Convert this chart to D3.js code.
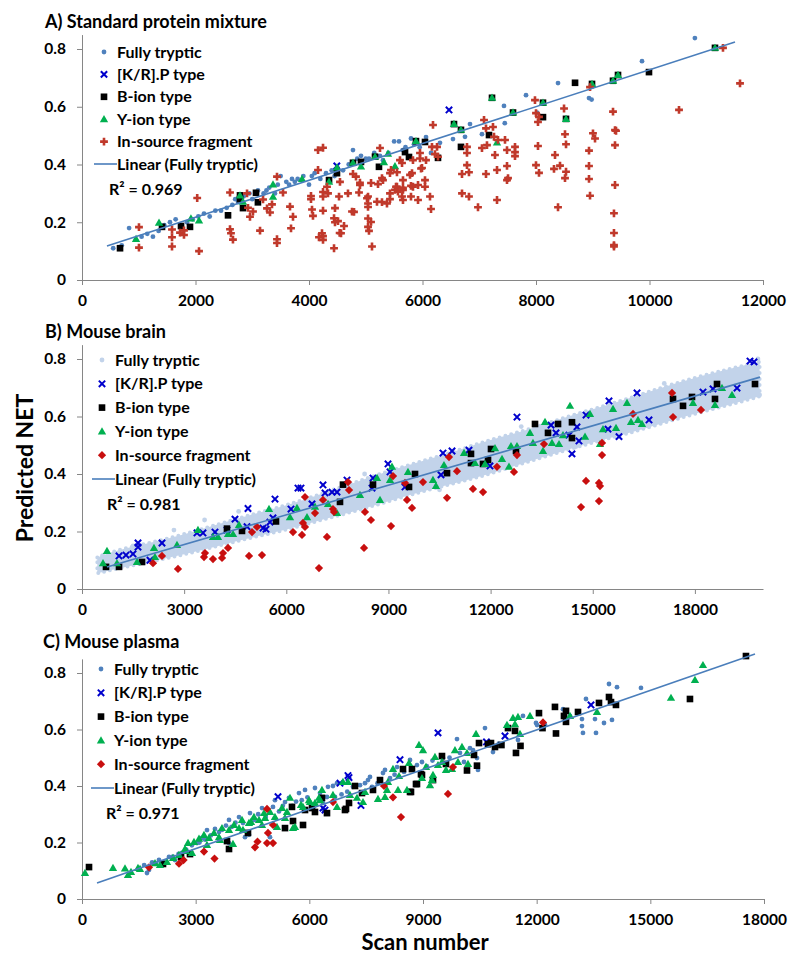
<!DOCTYPE html>
<html>
<head>
<meta charset="utf-8">
<script src="https://cdn.jsdelivr.net/npm/d3@7"></script>
<style>
  body { margin: 0; background: #fff; }
  text { font-family: Lato, "Open Sans", sans-serif; font-weight: bold; fill: #000; }
</style>
</head>
<body>
<script>
// ---- tick values ----
const xTicksA = [0, 2000, 4000, 6000, 8000, 10000, 12000];
const xTicksB = [0, 3000, 6000, 9000, 12000, 15000, 18000];
const xTicksC = [0, 3000, 6000, 9000, 12000, 15000, 18000];
const yTicks = [0, 0.2, 0.4, 0.6, 0.8];

const seriesNames = ['Fully tryptic', '[K/R].P type', 'B-ion type', 'Y-ion type', 'In-source fragment', 'Linear (Fully tryptic)'];

// ---- A) Standard protein mixture: [scan, NET] ----
const aFully = [[550,0.11],[700,0.12],[830,0.18],[950,0.14],[1050,0.15],[1150,0.16],[1250,0.15],[1350,0.17],[1450,0.19],[1550,0.2],
  [1650,0.21],[1750,0.19],[1850,0.2],[1950,0.21],[2050,0.22],[2150,0.23],[2250,0.22],[2350,0.24],[2450,0.24],[2550,0.25],
  [2650,0.26],[2700,0.28],[2750,0.27],[2850,0.29],[2950,0.3],[3000,0.28],[3100,0.31],[3200,0.3],[3250,0.31],[3300,0.32],
  [3400,0.3],[3450,0.33],[3500,0.36],[3600,0.34],[3650,0.33],[3700,0.35],[3750,0.34],[3800,0.35],[3900,0.36],[4000,0.33],
  [4050,0.36],[4100,0.37],[4200,0.35],[4300,0.37],[4400,0.38],[4450,0.36],[4500,0.39],[4600,0.38],[4700,0.4],[4775,0.45],
  [4850,0.42],[4916,0.43],[5000,0.42],[5057,0.42],[5150,0.44],[5250,0.43],[5304,0.415],[5400,0.44],[5500,0.48],[5586,0.48],
  [5650,0.45],[5700,0.46],[5797,0.49],[5850,0.47],[5950,0.46],[6062,0.495],[6150,0.44],[6308,0.475],[6537,0.488],[6749,0.496],
  [6837,0.54],[7048,0.505],[7436,0.603],[7450,0.543],[7824,0.64],[8018,0.58],[8388,0.682],[8934,0.63],[8980,0.625],[9868,0.758],
  [10800,0.838]];
const aKRP = [[4490,0.395],[6467,0.589]];
const aBion = [[670,0.11],[1410,0.184],[1745,0.187],[1903,0.184],[2573,0.224],[2784,0.28],[2837,0.249],[3066,0.302],[3100,0.269],
  [4353,0.346],[4493,0.37],[4916,0.409],[5233,0.392],[5692,0.443],[5762,0.426],[6044,0.478],[6273,0.423],[6678,0.461],[7172,0.502],
  [8123,0.564],[8688,0.683],[9991,0.72],[2784,0.293],[4775,0.406],[5163,0.427],[5885,0.481],[6555,0.54],[6678,0.52],[7225,0.631],
  [7595,0.58],[8123,0.614],[8529,0.558],[8987,0.679],[9357,0.69],[9445,0.71],[11154,0.804]];
const aYion = [[952,0.142],[1357,0.198],[1920,0.213],[2062,0.206],[2784,0.293],[2837,0.271],[3366,0.331],[3366,0.288],[3877,0.35],
  [4353,0.34],[4493,0.39],[4775,0.406],[4916,0.393],[5163,0.427],[5321,0.408],[5515,0.394],[5392,0.437],[5885,0.481],[6555,0.54],
  [6678,0.52],[7225,0.631],[7313,0.476],[7595,0.58],[8123,0.614],[8529,0.558],[8987,0.679],[9357,0.69],[9445,0.71],[11154,0.804]];
const aInSource = [[1004,0.183],[1004,0.112],[1586,0.175],[1586,0.148],[1586,0.116],[1727,0.164],[1797,0.156],[1797,0.172],[2030,0.284],
  [2062,0.1],[2608,0.303],[2608,0.176],[2625,0.162],[2660,0.14],[2908,0.3],[2925,0.25],[2960,0.219],[3013,0.237],[3137,0.171],
  [3190,0.279],[3260,0.248],[3313,0.234],[3348,0.262],[3436,0.358],[3436,0.141],[3436,0.128],[3542,0.303],[3665,0.254],[3718,0.219],
  [3683,0.179],[4035,0.291],[4035,0.28],[4053,0.244],[4070,0.222],[4159,0.45],[4247,0.458],[4159,0.381],[4176,0.148],[4229,0.162],
  [4247,0.24],[4317,0.323],[4335,0.3],[4441,0.11],[4441,0.214],[4511,0.204],[4564,0.162],[4546,0.34],[4687,0.3],[4758,0.237],
  [4775,0.367],[4828,0.358],[4881,0.303],[4898,0.337],[5022,0.283],[5040,0.265],[5040,0.213],[5040,0.184],[5057,0.17],[5093,0.201],
  [5110,0.116],[5093,0.336],[5198,0.271],[5216,0.332],[5286,0.353],[5251,0.457],[5374,0.265],[5427,0.37],[5427,0.28],[5515,0.312],
  [5550,0.323],[5568,0.306],[5550,0.373],[4247,0.305],[4247,0.289],[4247,0.152],[4247,0.139],[4458,0.249],[4458,0.2],[4529,0.289],
  [4540,0.163],[4617,0.187],[4793,0.236],[4898,0.329],[5040,0.289],[5040,0.253],[5286,0.27],[5304,0.346],[5427,0.3],[5445,0.381],
  [5533,0.323],[5603,0.415],[5639,0.289],[5656,0.277],[5656,0.319],[5780,0.364],[5797,0.326],[5797,0.289],[5832,0.415],[5921,0.329],
  [5921,0.277],[5956,0.44],[5991,0.388],[6044,0.323],[6062,0.415],[6132,0.289],[6150,0.246],[6185,0.537],[6256,0.461],[6273,0.427],
  [5639,0.405],[5656,0.346],[5656,0.312],[5815,0.37],[5832,0.323],[5956,0.421],[5974,0.386],[6044,0.346],[6167,0.461],[6220,0.436],
  [6696,0.367],[6696,0.3],[6784,0.461],[6784,0.44],[6784,0.398],[6819,0.373],[6819,0.289],[6978,0.252],[7048,0.457],[7084,0.554],
  [7119,0.525],[7119,0.367],[7136,0.467],[7242,0.53],[7260,0.496],[7277,0.433],[7313,0.381],[7313,0.277],[7330,0.485],[7454,0.485],
  [7489,0.45],[7489,0.395],[7489,0.346],[7507,0.353],[7630,0.461],[7630,0.443],[7630,0.429],[7982,0.623],[8000,0.578],[8035,0.547],
  [8035,0.464],[8000,0.398],[8053,0.371],[8053,0.565],[8335,0.433],[8317,0.385],[8388,0.252],[8423,0.396],[8494,0.594],[8511,0.505],
  [8529,0.47],[8529,0.375],[8511,0.353],[8934,0.448],[8934,0.395],[8934,0.35],[8952,0.292],[8952,0.668],[9004,0.508],[9040,0.49],
  [9357,0.583],[9392,0.519],[9410,0.517],[9392,0.467],[9392,0.329],[9374,0.231],[9374,0.163],[9374,0.121],[9374,0.116],[10520,0.589],
  [11295,0.804],[11595,0.681]];
const aTrend = [[440,0.118],[11507,0.824]];

// ---- B) Mouse brain ----
// envelope of the dense fully tryptic cloud: [scan, low, high]
const bBand = [[450,0.055,0.11],[1000,0.07,0.135],[2000,0.095,0.16],[3000,0.12,0.19],[4000,0.15,0.225],[5000,0.18,0.26],
  [6000,0.205,0.29],[7000,0.24,0.33],[8000,0.27,0.37],[9000,0.305,0.41],[10000,0.34,0.445],[11000,0.37,0.48],[12000,0.4,0.52],
  [13000,0.44,0.55],[14000,0.475,0.59],[15000,0.51,0.625],[16000,0.54,0.66],[17000,0.575,0.7],[18000,0.61,0.735],[19000,0.64,0.765],
  [19900,0.67,0.79]];
const bFully = [[600,0.115],[1500,0.15],[2700,0.205],[3600,0.24],[4600,0.27],[8300,0.4],[10500,0.345],[12900,0.565],[14500,0.495],
  [17100,0.715],[19850,0.8],[19900,0.675]];
const bKRP = [[1087,0.115],[1292,0.118],[1498,0.122],[1645,0.146],[1645,0.16],[2349,0.16],[1997,0.1],[3377,0.195],[3553,0.195],
  [3906,0.198],[4258,0.205],[4493,0.243],[4875,0.28],[4846,0.217],[5316,0.212],[5404,0.208],[5521,0.233],[5609,0.247],[5668,0.313],
  [6138,0.278],[6343,0.351],[6431,0.351],[6755,0.296],[7078,0.362],[7137,0.334],[7342,0.337],[7489,0.337],[7783,0.379],[8546,0.386],
  [8517,0.351],[8987,0.435],[9046,0.407],[9486,0.355],[10602,0.473],[10867,0.48],[10543,0.397],[11366,0.483],[11982,0.428],
  [12775,0.598],[13774,0.57],[13921,0.543],[14302,0.535],[14390,0.47],[14537,0.564],[14596,0.515],[14802,0.605],[15448,0.556],
  [15477,0.654],[15771,0.53],[16300,0.682],[16652,0.588],[18238,0.685],[18532,0.696],[19237,0.699],[19618,0.793],[19736,0.79]];
const bBion = [[705,0.077],[1087,0.077],[1762,0.094],[4258,0.21],[4699,0.202],[5697,0.235],[7577,0.303],[7665,0.363],[8546,0.363],
  [9604,0.355],[9780,0.4],[10720,0.403],[11424,0.47],[11424,0.438],[11777,0.435],[11924,0.449],[12012,0.487],[12746,0.48],
  [13304,0.574],[13686,0.543],[13980,0.574],[14390,0.58],[14390,0.525],[17357,0.661],[17651,0.637],[17915,0.668],[18590,0.661],
  [18649,0.713],[19765,0.713]];
const bYion = [[617,0.09],[734,0.132],[1028,0.09],[1615,0.094],[2114,0.143],[2143,0.111],[2790,0.153],[3406,0.205],[3847,0.181],
  [3994,0.181],[4288,0.191],[4435,0.191],[4611,0.223],[5492,0.278],[6108,0.25],[6314,0.282],[6608,0.25],[6843,0.286],[7225,0.296],
  [7489,0.264],[8164,0.327],[8752,0.31],[8664,0.386],[9104,0.425],[9046,0.379],[9574,0.407],[10308,0.379],[10396,0.358],[10631,0.431],
  [11219,0.473],[11542,0.438],[11836,0.435],[12129,0.49],[12335,0.452],[12540,0.425],[12599,0.497],[12775,0.497],[13157,0.543],
  [13245,0.508],[13539,0.48],[13598,0.581],[13803,0.508],[14009,0.504],[14126,0.535],[14332,0.637],[14773,0.53],[14919,0.609],
  [15213,0.504],[15301,0.556],[15595,0.626],[15683,0.56],[16006,0.647],[16124,0.581],[16329,0.588],[16446,0.574],[17944,0.647],
  [18590,0.64],[18796,0.699],[19090,0.675]];
const bInSource = [[2085,0.09],[2349,0.115],[2819,0.07],[3583,0.111],[3612,0.125],[3847,0.104],[4112,0.108],[4141,0.125],[4288,0.143],
  [4905,0.115],[4993,0.198],[5139,0.216],[5286,0.118],[6197,0.198],[6461,0.188],[6490,0.23],[6549,0.216],[6549,0.32],[6843,0.264],
  [6960,0.073],[7078,0.31],[7195,0.181],[7371,0.278],[7401,0.268],[7812,0.372],[7842,0.344],[8311,0.268],[8487,0.24],[8282,0.143],
  [9075,0.219],[9134,0.393],[9486,0.369],[9545,0.31],[9692,0.282],[10014,0.372],[10720,0.317],[10778,0.459],[11013,0.41],
  [11483,0.348],[11777,0.337],[12188,0.425],[12687,0.407],[12775,0.466],[13568,0.504],[14655,0.285],[14802,0.376],[15183,0.306],
  [15183,0.369],[15213,0.358],[15272,0.508],[15272,0.466],[16183,0.609],[17328,0.682],[17357,0.598],[18179,0.623]];
const bTrend = [[734,0.0765],[19912,0.737]];

// ---- C) Mouse plasma ----
const cFully = [[1640,0.12],[1715,0.092],[1768,0.103],[1850,0.13],[1950,0.125],[2032,0.138],[2150,0.13],[2296,0.149],[2400,0.15],
  [2454,0.138],[2550,0.16],[2639,0.163],[2750,0.175],[2824,0.166],[2900,0.19],[3035,0.198],[3100,0.2],[3167,0.216],[3250,0.21],
  [3299,0.244],[3400,0.225],[3510,0.248],[3616,0.237],[3700,0.245],[3800,0.26],[3880,0.28],[3880,0.198],[3950,0.255],[4050,0.27],
  [4144,0.29],[4249,0.269],[4302,0.219],[4407,0.227],[4434,0.304],[4550,0.28],[4650,0.3],[4751,0.322],[4850,0.29],[4962,0.219],
  [5041,0.326],[5093,0.35],[5200,0.31],[5300,0.33],[5358,0.343],[5463,0.358],[5550,0.33],[5650,0.345],[5727,0.375],[5800,0.35],
  [5886,0.386],[5950,0.36],[6149,0.393],[6281,0.375],[6360,0.34],[6387,0.315],[6466,0.361],[6492,0.397],[6624,0.4],[6677,0.361],
  [6730,0.41],[6850,0.37],[7000,0.38],[7152,0.397],[7337,0.403],[7469,0.41],[7548,0.421],[7601,0.432],[7654,0.397],[7800,0.41],
  [7944,0.446],[7997,0.457],[8129,0.428],[8250,0.44],[8314,0.467],[8500,0.45],[8657,0.492],[8841,0.474],[8973,0.485],[9100,0.47],
  [9250,0.49],[9528,0.499],[9700,0.5],[9897,0.566],[9976,0.517],[10082,0.485],[10240,0.534],[10320,0.527],[10425,0.499],
  [10451,0.457],[10636,0.605],[10847,0.52],[11000,0.55],[11507,0.563],[11639,0.648],[11982,0.623],[12009,0.616],[12220,0.616],
  [12695,0.672],[12879,0.648],[13196,0.612],[13222,0.588],[13196,0.637],[13302,0.708],[13539,0.637],[13566,0.588],[13777,0.623],
  [13909,0.761],[13988,0.634],[14120,0.75],[14753,0.747]];
const cKRP = [[5173,0.362],[6360,0.322],[6413,0.315],[6809,0.41],[7020,0.437],[7047,0.43],[7363,0.331],[8393,0.493],[9396,0.588],
  [10675,0.556],[11164,0.577],[13434,0.687]];
const cBion = [[185,0.113],[2138,0.124],[2613,0.149],[2850,0.159],[3827,0.205],[3880,0.177],[4381,0.234],[5358,0.251],[5542,0.326],
  [5569,0.276],[5833,0.262],[5886,0.315],[6070,0.322],[6149,0.308],[6334,0.358],[6466,0.304],[6941,0.315],[6968,0.319],[7047,0.34],
  [7205,0.4],[7390,0.375],[7680,0.386],[7865,0.421],[8472,0.46],[8657,0.379],[8683,0.379],[8709,0.46],[8815,0.407],[8841,0.407],
  [8947,0.442],[8973,0.439],[9264,0.421],[9501,0.506],[9607,0.478],[10161,0.455],[10346,0.51],[10425,0.472],[10478,0.552],
  [10715,0.548],[10794,0.552],[10900,0.538],[11070,0.545],[11243,0.605],[11428,0.595],[11454,0.517],[11573,0.542],[12061,0.658],
  [12154,0.605],[12483,0.68],[12510,0.586],[12721,0.648],[12774,0.666],[12774,0.627],[13091,0.662],[13645,0.694],[13909,0.715],
  [13962,0.697],[14093,0.687],[16046,0.708],[17524,0.86]];
const cYion = [[79,0.092],[818,0.11],[1135,0.108],[1214,0.085],[1293,0.096],[1478,0.11],[1531,0.106],[1927,0.127],[2059,0.12],
  [2243,0.131],[2402,0.145],[2560,0.156],[2718,0.177],[2745,0.17],[2798,0.198],[2903,0.163],[2956,0.202],[3088,0.213],[3220,0.227],
  [3299,0.191],[3352,0.216],[3484,0.234],[3616,0.219],[3642,0.209],[3695,0.251],[3880,0.244],[3985,0.195],[4012,0.262],[4144,0.251],
  [4223,0.28],[4249,0.244],[4407,0.269],[4460,0.273],[4539,0.29],[4672,0.28],[4751,0.262],[4804,0.304],[4830,0.287],[4962,0.308],
  [5093,0.29],[5146,0.255],[5278,0.322],[5358,0.287],[5410,0.308],[5490,0.358],[5569,0.251],[5622,0.255],[5780,0.333],[5833,0.326],
  [5991,0.35],[6017,0.343],[6149,0.34],[6255,0.358],[6281,0.35],[6334,0.386],[6624,0.368],[6730,0.326],[6888,0.414],[7020,0.414],
  [7073,0.368],[7258,0.358],[7416,0.343],[7469,0.379],[7812,0.354],[7997,0.361],[8050,0.386],[8076,0.414],[8208,0.46],[8340,0.386],
  [8367,0.435],[8577,0.386],[8630,0.481],[8894,0.545],[9000,0.527],[8973,0.428],[9079,0.467],[9184,0.403],[9237,0.421],[9264,0.439],
  [9316,0.503],[9396,0.474],[9501,0.485],[9607,0.457],[9765,0.46],[9844,0.527],[9923,0.485],[10029,0.538],[10161,0.517],
  [10187,0.478],[10399,0.584],[11217,0.616],[11375,0.641],[11428,0.619],[11507,0.644],[11560,0.584],[11824,0.648],[12879,0.648],
  [13592,0.662],[15545,0.712],[16178,0.775],[16389,0.828]];
const cInSource = [[1768,0.112],[2560,0.125],[2680,0.138],[3220,0.168],[3497,0.143],[4566,0.183],[4632,0.203],[4883,0.319],
  [4909,0.234],[4883,0.198],[5041,0.198],[5041,0.262],[6624,0.343],[7970,0.4],[8208,0.36],[8419,0.29],[9659,0.372],[9791,0.467],
  [12167,0.625]];
const cTrend = [[396,0.057],[17762,0.867]];

const rSquared = ['0.969', '0.981', '0.971'];

// ---- styles ----
const blue = '#4f81bd', lightBlue = '#c2d3ea', krpBlue = '#0000cc', green = '#00b050',
  crossRed = '#c0392b', diamondRed = '#c80f0f', trendBlue = '#4a7ebb', axisGrey = '#868686';

const svg = d3.select('body').append('svg').attr('width', 800).attr('height', 964);

const sym = (type, size) => d3.symbol().type(type).size(size)();

function marker(g, kind, p, cx, cy) {
  if (kind === 'fully') {
    g.append('circle').attr('cx', cx).attr('cy', cy).attr('r', 2.4).attr('fill', p.fullyColor);
  } else if (kind === 'krp') {
    g.append('path').attr('d', sym(d3.symbolX, 28)).attr('transform', `translate(${cx},${cy})`)
      .attr('fill', 'none').attr('stroke', krpBlue).attr('stroke-width', 2);
  } else if (kind === 'bion') {
    g.append('path').attr('d', sym(d3.symbolSquare, 44)).attr('transform', `translate(${cx},${cy})`).attr('fill', '#000');
  } else if (kind === 'yion') {
    g.append('path').attr('d', sym(d3.symbolTriangle, 30)).attr('transform', `translate(${cx},${cy + 0.6})`).attr('fill', green);
  } else if (p.cross) {
    g.append('path').attr('d', sym(d3.symbolCross, 34)).attr('transform', `translate(${cx},${cy})`).attr('fill', crossRed);
  } else {
    g.append('path').attr('d', sym(d3.symbolSquare, 34)).attr('transform', `translate(${cx},${cy}) rotate(45)`).attr('fill', diamondRed);
  }
}

function drawPanel(p) {
  const x = d3.scaleLinear().domain([0, p.xMax]).range([82, p.xRight]);
  const y = d3.scaleLinear().domain([0, 0.85]).range([p.yZero, p.yZero - 0.85 * p.yUnit]);
  const g = svg.append('g');

  svg.append('text').attr('x', p.titleX).attr('y', p.titleY).style('font-size', '18px').text(p.title);

  // axes
  const yAxis = g.append('g').attr('transform', 'translate(82,0)')
    .call(d3.axisLeft(y).tickValues(yTicks).tickSize(5).tickSizeOuter(0).tickPadding(11)
      .tickFormat(d => d === 0 ? '0' : d3.format('.1f')(d)));
  const xAxis = g.append('g').attr('transform', `translate(0,${p.yZero})`)
    .call(d3.axisBottom(x).tickValues(p.xTicks).tickSize(5).tickSizeOuter(0).tickPadding(10).tickFormat(d3.format('d')));
  [yAxis, xAxis].forEach(a => {
    a.select('.domain').attr('stroke', axisGrey);
    a.selectAll('.tick line').attr('stroke', axisGrey);
    a.selectAll('.tick text').style('font-size', '15.5px').attr('fill', '#000');
  });

  // fully tryptic
  if (p.band) {
    const area = d3.area().x(d => x(d[0])).y0(d => y(d[1])).y1(d => y(d[2])).curve(d3.curveBasis);
    g.append('path').datum(p.band).attr('d', area).attr('fill', lightBlue)
      .attr('stroke', lightBlue).attr('stroke-width', 4).attr('stroke-linecap', 'round').attr('stroke-dasharray', '0 6');
  }
  p.fully.forEach(d => marker(g, 'fully', p, x(d[0]), y(d[1])));
  p.krp.forEach(d => marker(g, 'krp', p, x(d[0]), y(d[1])));
  p.bion.forEach(d => marker(g, 'bion', p, x(d[0]), y(d[1])));
  p.yion.forEach(d => marker(g, 'yion', p, x(d[0]), y(d[1])));
  p.insource.forEach(d => marker(g, 'insource', p, x(d[0]), y(d[1])));

  g.append('path').datum(p.trend).attr('d', d3.line().x(d => x(d[0])).y(d => y(d[1])))
    .attr('stroke', trendBlue).attr('stroke-width', 1.6).attr('fill', 'none');

  // legend
  const kinds = ['fully', 'krp', 'bion', 'yion', 'insource'];
  const lg = svg.append('g');
  seriesNames.forEach((name, i) => {
    const cy = p.legendY + i * p.legendStep;
    if (i < 5) marker(lg, kinds[i], p, p.legendX, cy);
    else lg.append('line').attr('x1', p.legendX - 10).attr('x2', p.legendX + 13).attr('y1', cy).attr('y2', cy)
      .attr('stroke', trendBlue).attr('stroke-width', 1.6);
    lg.append('text').attr('x', p.legendX + 13).attr('y', cy + 5.5).style('font-size', '16px').text(name);
  });
  lg.append('text').attr('x', p.legendX + 5).attr('y', p.legendY + 5 * p.legendStep + 31)
    .style('font-size', '16px').text('R² = ' + p.r2);
}

const panels = [
  {title: 'A) Standard protein mixture', titleX: 45, titleY: 28, xMax: 12000, xRight: 763, xTicks: xTicksA,
   yZero: 280, yUnit: 288.75, fullyColor: blue, cross: true,
   fully: aFully, krp: aKRP, bion: aBion, yion: aYion, insource: aInSource, trend: aTrend, r2: rSquared[0],
   legendX: 104, legendY: 52, legendStep: 22.4},
  {title: 'B) Mouse brain', titleX: 45, titleY: 338, xMax: 20000, xRight: 763, xTicks: xTicksB,
   yZero: 589, yUnit: 287.5, fullyColor: lightBlue, cross: false, band: bBand,
   fully: bFully, krp: bKRP, bion: bBion, yion: bYion, insource: bInSource, trend: bTrend, r2: rSquared[1],
   legendX: 102, legendY: 360, legendStep: 23.8},
  {title: 'C) Mouse plasma', titleX: 43, titleY: 648, xMax: 18000, xRight: 764, xTicks: xTicksC,
   yZero: 899, yUnit: 282.5, fullyColor: blue, cross: false,
   fully: cFully, krp: cKRP, bion: cBion, yion: cYion, insource: cInSource, trend: cTrend, r2: rSquared[2],
   legendX: 101, legendY: 669, legendStep: 23.8}
];
panels.forEach(drawPanel);

// axis titles
svg.append('text').attr('transform', 'translate(33,468) rotate(-90)').attr('text-anchor', 'middle')
  .style('font-size', '23px').text('Predicted NET');
svg.append('text').attr('x', 425).attr('y', 950).attr('text-anchor', 'middle')
  .style('font-size', '22px').text('Scan number');
</script>
</body>
</html>
